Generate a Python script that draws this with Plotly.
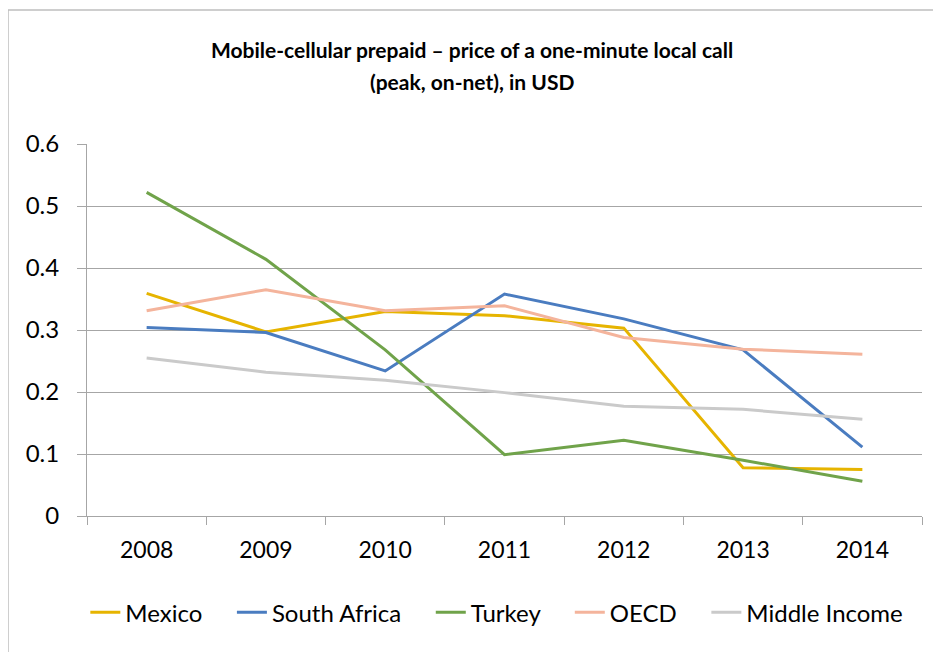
import plotly.graph_objects as go

years = ['2008', '2009', '2010', '2011', '2012', '2013', '2014']
mexico = [0.359, 0.297, 0.330, 0.323, 0.303, 0.078, 0.075]
south_africa = [0.304, 0.296, 0.234, 0.358, 0.318, 0.268, 0.111]
turkey = [0.522, 0.414, 0.268, 0.099, 0.122, 0.090, 0.056]
oecd = [0.331, 0.365, 0.331, 0.339, 0.288, 0.269, 0.261]
middle_income = [0.255, 0.232, 0.219, 0.199, 0.177, 0.172, 0.156]

series = [
    ('Mexico', mexico, '#E6B400'),
    ('South Africa', south_africa, '#4A7CC0'),
    ('Turkey', turkey, '#70A34A'),
    ('OECD', oecd, '#F4B49C'),
    ('Middle Income', middle_income, '#CACACA'),
]

font = 'Lato, Carlito, Calibri, sans-serif'
grid = '#A6A6A6'
pad = '\u00a0' * 4  # extra room between legend entries

# page body has an 8px margin, so the figure is drawn 8px in from the window edge
fig = go.Figure()
for i, (name, vals, col) in enumerate(series):
    label = name if i == len(series) - 1 else name + pad
    fig.add_trace(go.Scatter(x=years, y=vals, name=label, mode='lines',
                             line=dict(color=col, width=3)))

fig.update_layout(
    width=933, height=644,
    margin=dict(l=79, r=19, t=136, b=136),
    paper_bgcolor='white', plot_bgcolor='white',
    font=dict(family=font, size=24, color='black'),
    showlegend=True,
    legend=dict(orientation='h', x=-0.002, xanchor='left', y=-0.26, yanchor='middle',
                font=dict(size=24), itemwidth=30, tracegroupgap=0, bgcolor='rgba(0,0,0,0)'),
)
title_lines = ['Mobile-cellular prepaid – price of a one-minute local call', '(peak, on-net), in USD']
for txt, yy in zip(title_lines, [1.253, 1.167]):
    fig.add_annotation(text='<b>' + txt + '</b>', xref='paper', yref='paper', x=0.4605, y=yy,
                       xanchor='center', yanchor='middle', showarrow=False,
                       font=dict(family=font, size=21, color='black'))

fig.update_xaxes(type='category', showgrid=False, showline=True, linecolor=grid, linewidth=1,
                 ticks='outside', tickson='boundaries', ticklen=8, tickcolor=grid,
                 range=[-0.5, 6.5], tickfont=dict(size=23), ticklabelstandoff=13)
fig.update_yaxes(range=[0, 0.6], dtick=0.1, showgrid=True, gridcolor=grid, gridwidth=1,
                 showline=True, linecolor=grid, ticks='outside', ticklen=9, tickcolor=grid,
                 zeroline=False, ticklabelstandoff=13, tickformat='.1~f', tickfont=dict(size=24))
# outer chart border (runs off the right and bottom edges)
fig.add_shape(type='rect', xref='paper', yref='paper',
              x0=(8 - 87) / 835, x1=(960 - 87) / 835, y0=(516 - 680) / 372, y1=(516 - 10) / 372,
              line=dict(color='#BFBFBF', width=1.5), fillcolor='rgba(0,0,0,0)', layer='below')

fig.write_html('out.html')
